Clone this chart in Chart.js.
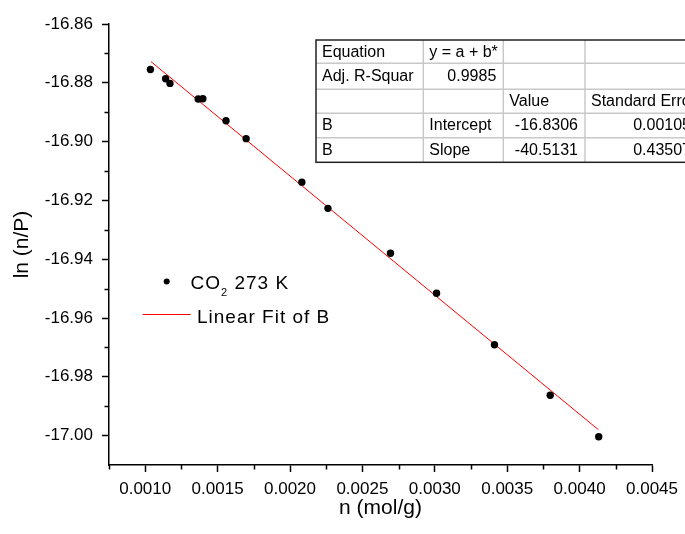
<!DOCTYPE html>
<html><head><meta charset="utf-8">
<script src="https://cdn.jsdelivr.net/npm/chart.js@4.4.1/dist/chart.umd.min.js"></script>
<style>html,body{margin:0;padding:0;background:#fff}canvas{display:block}</style>
</head><body>
<canvas id="c" width="685" height="534"></canvas>
<script>
// ---- data ----
const nValues  = [0.001036, 0.001141, 0.001171, 0.001366, 0.001398, 0.001558, 0.001697,
                  0.002082, 0.002262, 0.002694, 0.003012, 0.003412, 0.003797, 0.004132];
const lnValues = [-16.8755, -16.8786, -16.8802, -16.8855, -16.8854, -16.8929, -16.8990,
                  -16.9138, -16.9227, -16.9380, -16.9516, -16.9691, -16.9863, -17.0004];
const fitN  = [0.00104, 0.00413];
const fitLn = [-16.8728, -16.9980];
const xMajorTicks = [0.0010, 0.0015, 0.0020, 0.0025, 0.0030, 0.0035, 0.0040, 0.0045];
const xMinorTicks = [0.00075, 0.00125, 0.00175, 0.00225, 0.00275, 0.00325, 0.00375, 0.00425];
const yMajorTicks = [-16.86, -16.88, -16.90, -16.92, -16.94, -16.96, -16.98, -17.00];
const yMinorTicks = [-16.87, -16.89, -16.91, -16.93, -16.95, -16.97, -16.99];
const seriesLabel = ['CO', '2', ' 273 K'];
const fitLabel = 'Linear Fit of B';
const xTitle = 'n (mol/g)';
const yTitle = 'ln (n/P)';
const tableRows = [
  ['Equation', 'y = a + b*', '', ''],
  ['Adj. R-Squar', '0.9985', '', ''],
  ['', '', 'Value', 'Standard Error'],
  ['B', 'Intercept', '-16.8306', '0.00105'],
  ['B', 'Slope', '-40.5131', '0.43507']
];

const FONT = "'Liberation Sans', Arial, sans-serif";
Chart.defaults.font.family = FONT;
Chart.defaults.color = '#000';

const bgPlugin = {
  id: 'bg',
  beforeDraw(chart) {
    const ctx = chart.ctx;
    ctx.save(); ctx.fillStyle = '#fff'; ctx.fillRect(0, 0, chart.width, chart.height); ctx.restore();
  }
};

const extrasPlugin = {
  id: 'extras',
  afterDraw(chart) {
    const ctx = chart.ctx;
    const x = chart.scales.x, y = chart.scales.y;
    ctx.save();
    // minor ticks
    ctx.strokeStyle = '#000'; ctx.lineWidth = 1.5;
    xMinorTicks.forEach(v => {
      const px = Math.round(x.getPixelForValue(v)) + 0.5;
      ctx.beginPath(); ctx.moveTo(px, x.top); ctx.lineTo(px, x.top + 4.5); ctx.stroke();
    });
    yMinorTicks.forEach(v => {
      const py = Math.round(y.getPixelForValue(v)) + 0.5;
      ctx.beginPath(); ctx.moveTo(y.right, py); ctx.lineTo(y.right - 4.5, py); ctx.stroke();
    });

    // legend
    ctx.fillStyle = '#000';
    ctx.beginPath(); ctx.arc(166.7, 281.5, 3, 0, Math.PI * 2); ctx.fill();
    ctx.textBaseline = 'alphabetic'; ctx.textAlign = 'left';
    ctx.letterSpacing = '1px';
    ctx.font = '19px ' + FONT;
    let tx = 190.5;
    ctx.fillText(seriesLabel[0], tx, 288.5);
    tx += ctx.measureText(seriesLabel[0]).width;
    ctx.font = '11px ' + FONT;
    ctx.fillText(seriesLabel[1], tx, 296);
    tx += ctx.measureText(seriesLabel[1]).width;
    ctx.font = '19px ' + FONT;
    ctx.fillText(seriesLabel[2], tx, 288.5);
    ctx.strokeStyle = '#ff0000'; ctx.lineWidth = 1;
    ctx.beginPath(); ctx.moveTo(142.7, 314.5); ctx.lineTo(190.7, 314.5); ctx.stroke();
    ctx.fillText(fitLabel, 197, 323);
    ctx.letterSpacing = '0px';

    // table
    const colEdges = [316, 423.3, 503.3, 585, 698];
    const rowEdges = [40, 63.3, 89.3, 113.3, 137.7, 162.3];
    ctx.fillStyle = '#fff';
    ctx.fillRect(colEdges[0], rowEdges[0], colEdges[4] - colEdges[0], rowEdges[5] - rowEdges[0]);
    ctx.strokeStyle = '#c8c8c8'; ctx.lineWidth = 1.5;
    for (let i = 1; i < rowEdges.length - 1; i++) {
      ctx.beginPath(); ctx.moveTo(colEdges[0], rowEdges[i]); ctx.lineTo(colEdges[4], rowEdges[i]); ctx.stroke();
    }
    for (let j = 1; j < colEdges.length - 1; j++) {
      ctx.beginPath(); ctx.moveTo(colEdges[j], rowEdges[0]); ctx.lineTo(colEdges[j], rowEdges[5]); ctx.stroke();
    }
    ctx.strokeStyle = '#222'; ctx.lineWidth = 1.5;
    ctx.strokeRect(colEdges[0], rowEdges[0], colEdges[4] - colEdges[0], rowEdges[5] - rowEdges[0]);
    ctx.font = '16px ' + FONT;
    ctx.fillStyle = '#000';
    ctx.textBaseline = 'middle';
    tableRows.forEach((row, i) => {
      const cy = (rowEdges[i] + rowEdges[i + 1]) / 2 + 0.5;
      row.forEach((txt, j) => {
        if (!txt) return;
        ctx.save();
        ctx.beginPath();
        ctx.rect(colEdges[j], rowEdges[i], colEdges[j + 1] - colEdges[j], rowEdges[i + 1] - rowEdges[i]);
        ctx.clip();
        const numeric = /^-?\d/.test(txt);
        if (numeric) { ctx.textAlign = 'right'; ctx.fillText(txt, colEdges[j + 1] - 7, cy); }
        else { ctx.textAlign = 'left'; ctx.fillText(txt, colEdges[j] + 6, cy); }
        ctx.restore();
      });
    });
    ctx.restore();
  }
};

const majorSet = (arr) => arr.map(v => ({ value: v }));

new Chart(document.getElementById('c'), {
  type: 'scatter',
  data: {
    datasets: [
      {
        label: 'CO2 273 K',
        data: nValues.map((v, i) => ({ x: v, y: lnValues[i] })),
        backgroundColor: '#000', borderColor: '#000',
        pointRadius: 3.7, pointHoverRadius: 3.7, pointBorderWidth: 0
      },
      {
        label: fitLabel,
        data: fitN.map((v, i) => ({ x: v, y: fitLn[i] })),
        showLine: true, borderColor: '#ff0000', borderWidth: 1,
        pointRadius: 0, pointHoverRadius: 0, fill: false
      }
    ]
  },
  options: {
    responsive: false, animation: false,
    layout: { padding: { top: 24, right: 29, left: 0, bottom: 0 } },
    plugins: { legend: { display: false }, tooltip: { enabled: false } },
    scales: {
      x: {
        type: 'linear', min: 0.00075, max: 0.0045,
        afterFit(s) { s.height = 69; },
        afterBuildTicks(s) { s.ticks = majorSet(xMajorTicks); },
        border: { display: true, color: '#000', width: 1.5 },
        grid: { drawOnChartArea: false, drawTicks: true, tickLength: 7, tickColor: '#000', tickWidth: 1.5 },
        ticks: { autoSkip: false, maxRotation: 0, padding: 7, font: { size: 17 }, color: '#000',
                 callback: (v) => Number(v).toFixed(4) },
        title: { display: true, text: xTitle, font: { size: 21 }, color: '#000', padding: { top: 0, bottom: 13 } }
      },
      y: {
        type: 'linear', min: -17.01, max: -16.86,
        afterFit(s) { s.width = 109; },
        afterBuildTicks(s) { s.ticks = majorSet(yMajorTicks); },
        border: { display: true, color: '#000', width: 1.5 },
        grid: { drawOnChartArea: false, drawTicks: true, tickLength: 7, tickColor: '#000', tickWidth: 1.5 },
        ticks: { autoSkip: false, padding: 9, font: { size: 17 }, color: '#000',
                 callback: (v) => Number(v).toFixed(2) },
        title: { display: true, text: yTitle, font: { size: 21 }, color: '#000', padding: { top: 10, bottom: 0 } }
      }
    }
  },
  plugins: [bgPlugin, extrasPlugin]
});
</script>
</body></html>
